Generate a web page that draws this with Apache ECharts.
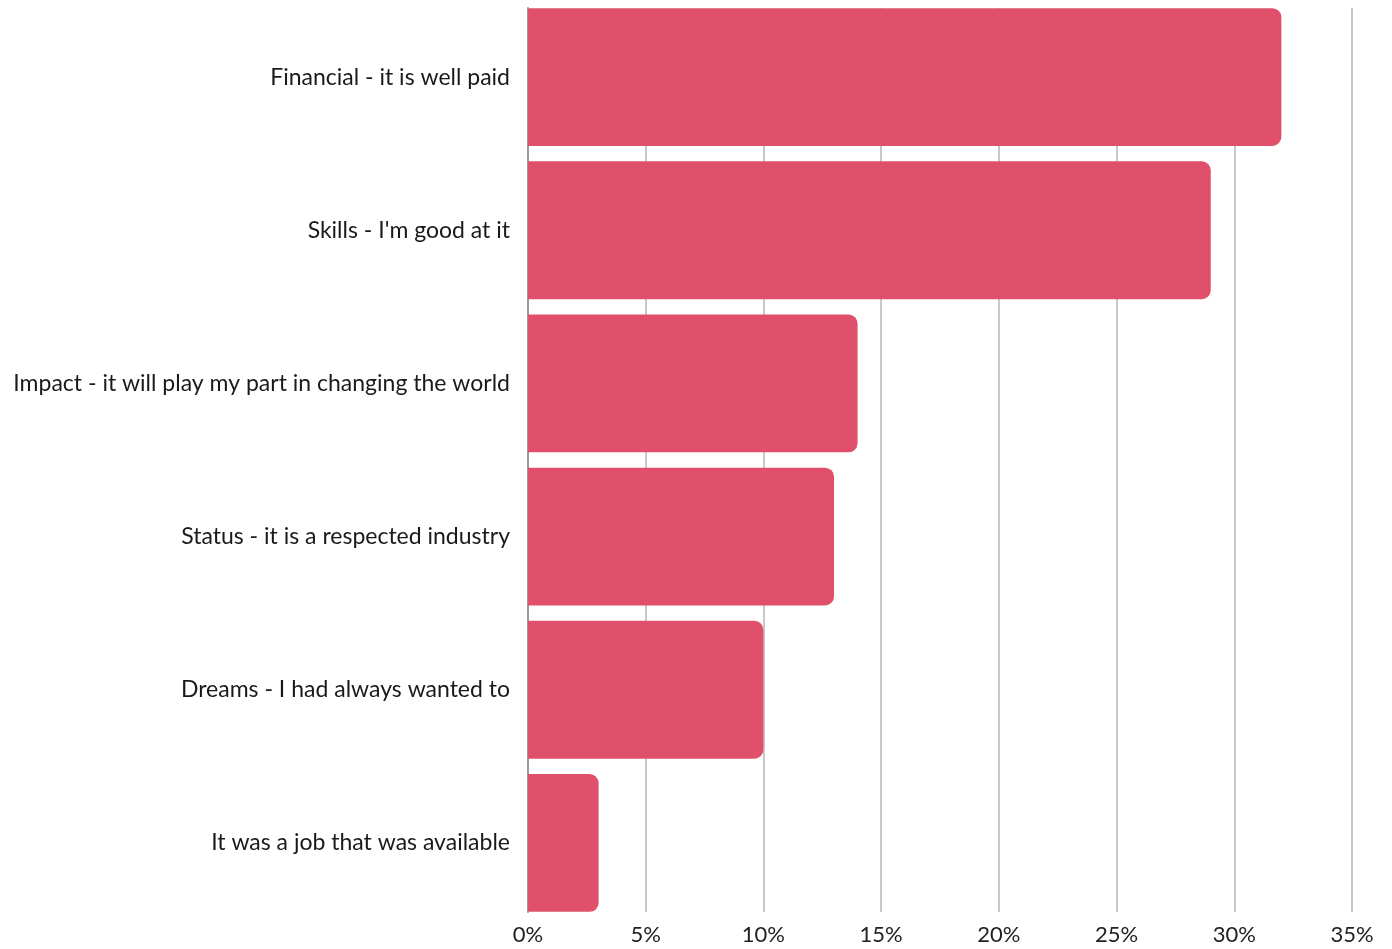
<!DOCTYPE html>
<html>
<head>
<meta charset="utf-8">
<script src="https://cdn.jsdelivr.net/npm/echarts@6/dist/echarts.min.js"></script>
<style>
  html, body { margin: 0; padding: 0; background: #ffffff; }
  #chart { width: 1392px; height: 949px; }
</style>
</head>
<body>
<div id="chart"></div>
<script>
// Reasons for choosing the job, share of respondents (%)
const categories = [
  "Financial - it is well paid",
  "Skills - I'm good at it",
  "Impact - it will play my part in changing the world",
  "Status - it is a respected industry",
  "Dreams - I had always wanted to",
  "It was a job that was available"
];
const shares = [32, 29, 14, 13, 10, 3];
const tickLabels = ["0%", "5%", "10%", "15%", "20%", "25%", "30%", "35%"];

const FONT = "Lato, 'Open Sans', sans-serif";
const chart = echarts.init(document.getElementById("chart"), null, { renderer: "canvas" });

chart.setOption({
  animation: false,
  backgroundColor: "#ffffff",
  grid: [
    // bars
    { left: 528, right: 40, top: 0.5, bottom: 29.5, containLabel: false },
    // gridlines and tick labels
    { left: 528, right: 40, top: 8, bottom: 37, containLabel: false }
  ],
  xAxis: [
    {
      gridIndex: 0, type: "value", min: 0, max: 35, interval: 5,
      axisLine: { show: false }, axisTick: { show: false },
      axisLabel: { show: false }, splitLine: { show: false }
    },
    {
      gridIndex: 1, type: "value", min: 0, max: 35, interval: 5,
      axisLine: { show: false }, axisTick: { show: false },
      splitLine: { show: true, lineStyle: { color: "#c8c8c8", width: 2 } },
      axisLabel: {
        margin: 12, color: "#222222", fontFamily: FONT, fontSize: 22,
        formatter: (v) => tickLabels[Math.round(v / 5)]
      }
    }
  ],
  yAxis: [
    {
      gridIndex: 0, type: "category", inverse: true, data: categories,
      axisLine: { show: false }, axisTick: { show: false },
      axisLabel: { margin: 18, color: "#1a1a1a", fontFamily: FONT, fontSize: 23 }
    },
    {
      gridIndex: 1, type: "category", inverse: true, data: categories,
      axisLine: { show: true, lineStyle: { color: "#9a9a9a", width: 2 } },
      axisTick: { show: false }, axisLabel: { show: false }
    }
  ],
  series: [
    {
      type: "bar", xAxisIndex: 0, yAxisIndex: 0, data: shares,
      barCategoryGap: "10%", z: 5,
      itemStyle: { color: "#e0506b", borderRadius: [0, 9, 9, 0] }
    }
  ]
});
</script>
</body>
</html>
